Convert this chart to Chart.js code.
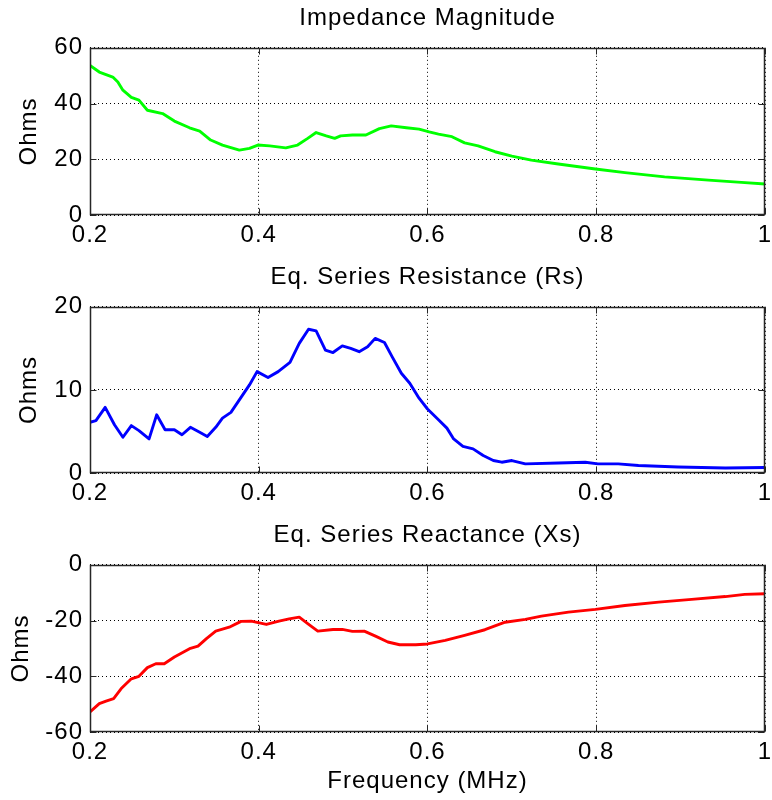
<!DOCTYPE html>
<html>
<head>
<meta charset="utf-8">
<script src="https://cdn.jsdelivr.net/npm/chart.js@4/dist/chart.umd.min.js"></script>
<style>
  html, body { margin: 0; padding: 0; background: #fff; }
  body { width: 772px; height: 800px; position: relative; overflow: hidden; }
  canvas { position: absolute; left: 0; }
</style>
</head>
<body>
<canvas id="cMag" width="772" height="260" style="top:0px"></canvas>
<canvas id="cRs" width="772" height="259" style="top:259px"></canvas>
<canvas id="cXs" width="772" height="283" style="top:517px"></canvas>
<script>
// Frequency axis (MHz)
const freqTicks = [0.2, 0.4, 0.6, 0.8, 1];
const freqTickLabels = ['0.2', '0.4', '0.6', '0.8', '1'];

// |Z| impedance magnitude (Ohms)
const magFreq = [0.200, 0.211, 0.227, 0.233, 0.239, 0.249, 0.258, 0.268, 0.286, 0.300,
                 0.318, 0.330, 0.343, 0.357, 0.377, 0.389, 0.399, 0.413, 0.432, 0.446,
                 0.458, 0.468, 0.480, 0.490, 0.497, 0.511, 0.527, 0.543, 0.557, 0.575,
                 0.590, 0.602, 0.613, 0.629, 0.644, 0.660, 0.680, 0.700, 0.723, 0.755,
                 0.799, 0.834, 0.881, 0.933, 0.972, 1.000];
const magOhms = [53.7, 51.3, 49.5, 47.7, 44.8, 42.2, 41.2, 37.6, 36.4, 33.7,
                 31.3, 30.1, 26.9, 25.1, 23.3, 23.9, 25.1, 24.8, 24.1, 25.1,
                 27.5, 29.6, 28.4, 27.5, 28.4, 28.7, 28.7, 31.0, 32.0, 31.3,
                 30.8, 29.8, 29.0, 28.1, 25.9, 24.8, 22.7, 21.1, 19.7, 18.3,
                 16.5, 15.2, 13.7, 12.5, 11.7, 11.1];
const magTicks = [0, 20, 40, 60];

// Equivalent series resistance Rs (Ohms)
const rsFreq = [0.200, 0.207, 0.218, 0.229, 0.239, 0.249, 0.258, 0.270, 0.279, 0.289,
                0.300, 0.309, 0.319, 0.330, 0.339, 0.349, 0.357, 0.367, 0.377, 0.389,
                0.398, 0.411, 0.423, 0.437, 0.448, 0.459, 0.468, 0.479, 0.488, 0.499,
                0.509, 0.519, 0.529, 0.538, 0.549, 0.558, 0.569, 0.579, 0.590, 0.600,
                0.613, 0.623, 0.631, 0.642, 0.654, 0.666, 0.678, 0.688, 0.700, 0.716,
                0.755, 0.787, 0.802, 0.826, 0.850, 0.897, 0.953, 1.000];
const rsOhms = [6.1, 6.3, 7.9, 5.8, 4.3, 5.7, 5.1, 4.1, 7.0, 5.2,
                5.2, 4.6, 5.5, 4.9, 4.4, 5.5, 6.6, 7.3, 8.8, 10.6,
                12.2, 11.5, 12.2, 13.3, 15.6, 17.3, 17.1, 14.8, 14.5, 15.3,
                15.0, 14.6, 15.2, 16.2, 15.7, 14.0, 12.0, 10.8, 9.0, 7.7,
                6.4, 5.4, 4.1, 3.2, 2.9, 2.1, 1.5, 1.3, 1.5, 1.1,
                1.2, 1.3, 1.1, 1.1, 0.9, 0.72, 0.6, 0.67];
const rsTicks = [0, 10, 20];

// Equivalent series reactance Xs (Ohms)
const xsFreq = [0.200, 0.211, 0.219, 0.228, 0.237, 0.249, 0.258, 0.268, 0.278, 0.288,
                0.300, 0.318, 0.328, 0.338, 0.349, 0.365, 0.379, 0.391, 0.409, 0.424,
                0.436, 0.448, 0.458, 0.470, 0.488, 0.499, 0.511, 0.525, 0.539, 0.553,
                0.567, 0.586, 0.600, 0.621, 0.644, 0.668, 0.692, 0.716, 0.735, 0.767,
                0.799, 0.834, 0.874, 0.913, 0.953, 0.976, 1.000];
const xsOhms = [-52.8, -49.8, -48.9, -48.0, -44.4, -40.9, -40.0, -36.9, -35.5, -35.5,
                -33.1, -30.1, -29.2, -26.5, -23.8, -22.4, -20.3, -20.2, -21.4, -20.2,
                -19.4, -18.8, -21.1, -23.8, -23.2, -23.2, -23.9, -23.8, -25.7, -27.7,
                -28.7, -28.7, -28.4, -27.1, -25.3, -23.3, -20.6, -19.6, -18.4, -17.0,
                -16.0, -14.6, -13.4, -12.4, -11.4, -10.6, -10.4];
const xsTicks = [-60, -40, -20, 0];

const FONT = '"Liberation Sans", Arial, Helvetica, sans-serif';
const INK = '#000';
const GRID = '#000';
const FRAME = '#262626';

// Box frame around the plot area with short inward tick marks on all four sides
const axisFrame = {
  id: 'axisFrame',
  beforeUpdate(chart) { chart.ctx.letterSpacing = '1px'; },
  beforeDraw(chart) { chart.ctx.letterSpacing = '1px'; },
  afterDatasetsDraw(chart) {
    const { ctx, chartArea, scales: { x, y } } = chart;
    const L = Math.round(chartArea.left) + 0.5;
    const R = Math.round(chartArea.right) - 0.5;
    const T = Math.round(chartArea.top) + 0.5;
    const B = Math.round(chartArea.bottom) - 0.5;
    const len = 6;
    ctx.save();
    ctx.strokeStyle = FRAME;
    ctx.lineWidth = 1;
    ctx.beginPath();
    x.ticks.forEach(t => {
      const p = Math.round(x.getPixelForValue(t.value)) + 0.5;
      ctx.moveTo(p, B); ctx.lineTo(p, B - len);
      ctx.moveTo(p, T); ctx.lineTo(p, T + len);
    });
    y.ticks.forEach(t => {
      const p = Math.round(y.getPixelForValue(t.value)) + 0.5;
      ctx.moveTo(L, p); ctx.lineTo(L + len, p);
      ctx.moveTo(R, p); ctx.lineTo(R - len, p);
    });
    ctx.stroke();
    ctx.lineWidth = 1.5;
    ctx.strokeRect(L, T, R - L, B - T);
    ctx.restore();
  }
};

function makePanel(id, opts) {
  const points = opts.freq.map((f, i) => ({ x: f, y: opts.values[i] }));
  return new Chart(document.getElementById(id), {
    type: 'line',
    data: {
      datasets: [{
        data: points,
        borderColor: opts.color,
        borderWidth: 2.9,
        borderJoinStyle: 'round',
        borderCapStyle: 'round',
        pointRadius: 0,
        tension: 0,
        fill: false
      }]
    },
    options: {
      responsive: false,
      animation: false,
      events: [],
      layout: { padding: { left: 0, right: 7, top: 0, bottom: 0 } },
      plugins: {
        legend: { display: false },
        tooltip: { enabled: false },
        title: {
          display: true,
          text: opts.title,
          color: INK,
          fullSize: false,
          font: { family: FONT, size: 24, weight: 'normal' },
          padding: { top: 4, bottom: 15 }
        }
      },
      scales: {
        x: {
          type: 'linear',
          min: 0.2,
          max: 1,
          afterBuildTicks: s => { s.ticks = freqTicks.map(v => ({ value: v })); },
          afterFit: s => { s.height = opts.xHeight; s.paddingLeft = 0; s.paddingRight = 0; },
          ticks: {
            color: INK,
            font: { family: FONT, size: 24 },
            padding: 6,
            maxRotation: 0,
            autoSkip: false,
            callback: (v, i) => freqTickLabels[i]
          },
          grid: { color: GRID, lineWidth: 1, drawTicks: false },
          border: { display: false, dash: [1, 3] },
          title: {
            display: !!opts.xTitle,
            text: opts.xTitle || '',
            color: INK,
            font: { family: FONT, size: 24 },
            padding: { top: 0, bottom: 4 }
          }
        },
        y: {
          type: 'linear',
          min: opts.yTicks[0],
          max: opts.yTicks[opts.yTicks.length - 1],
          afterBuildTicks: s => { s.ticks = opts.yTicks.map(v => ({ value: v })); },
          afterFit: s => { s.width = 90; s.paddingTop = 0; s.paddingBottom = 0; },
          ticks: {
            color: INK,
            font: { family: FONT, size: 24 },
            padding: 7,
            autoSkip: false,
            callback: v => String(v)
          },
          grid: { color: GRID, lineWidth: 1, drawTicks: false },
          border: { display: false, dash: [1, 3] },
          title: {
            display: true,
            text: 'Ohms',
            color: INK,
            font: { family: FONT, size: 24 },
            padding: { top: opts.yTitlePad, bottom: 0 }
          }
        }
      }
    },
    plugins: [axisFrame]
  });
}

makePanel('cMag', {
  title: 'Impedance Magnitude',
  freq: magFreq, values: magOhms, yTicks: magTicks,
  color: '#00ff00', xHeight: 45, yTitlePad: 15
});
makePanel('cRs', {
  title: 'Eq. Series Resistance (Rs)',
  freq: rsFreq, values: rsOhms, yTicks: rsTicks,
  color: '#0000ff', xHeight: 45, yTitlePad: 15
});
makePanel('cXs', {
  title: 'Eq. Series Reactance (Xs)',
  freq: xsFreq, values: xsOhms, yTicks: xsTicks,
  color: '#ff0000', xHeight: 68, yTitlePad: 7, xTitle: 'Frequency (MHz)'
});
</script>
</body>
</html>
